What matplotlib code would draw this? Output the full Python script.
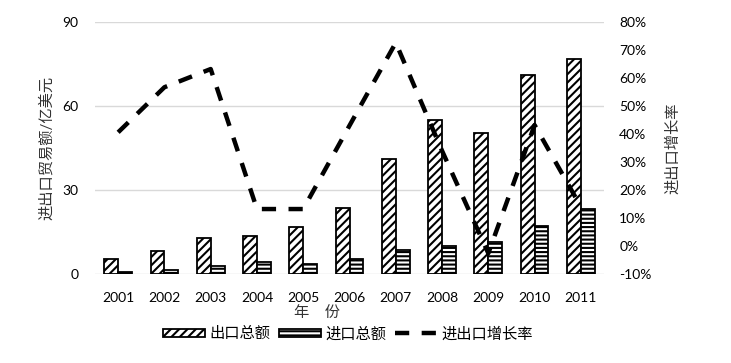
import matplotlib
matplotlib.use("Agg")
import matplotlib.pyplot as plt
import numpy as np
from matplotlib.patches import Patch
from matplotlib.lines import Line2D

years = ["2001", "2002", "2003", "2004", "2005", "2006", "2007", "2008", "2009", "2010", "2011"]
exports = [5.3, 8.1, 12.8, 13.5, 16.7, 23.6, 41.2, 55.0, 50.2, 71.1, 76.7]
imports = [0.8, 1.5, 3.0, 4.4, 3.7, 5.3, 8.5, 10.1, 11.3, 17.3, 23.2]
growth = [0.406, 0.567, 0.632, 0.132, 0.132, 0.43, 0.726, 0.34, -0.026, 0.432, 0.14]
left_ticks = [0, 30, 60, 90]
right_ticks = [-0.1, 0, 0.1, 0.2, 0.3, 0.4, 0.5, 0.6, 0.7, 0.8]

plt.rcParams['font.family'] = ['Lato', 'Noto Sans CJK SC', 'DejaVu Sans']
plt.rcParams['hatch.linewidth'] = 1.5

fig = plt.figure(figsize=(7.31, 3.63), dpi=100)
ax = fig.add_axes([95/731, 1 - 274/363, (604-95)/731, (274-22)/363])
x = np.arange(len(years))
w = 0.3
ax.bar(x - w/2, exports, width=w, facecolor='white', edgecolor='black', hatch='////', linewidth=1.3, zorder=3)
ax.bar(x + w/2, imports, width=w, facecolor='white', edgecolor='black', hatch='----', linewidth=1.3, zorder=3)
ax.set_xlim(-0.5, len(years) - 0.5)
ax.set_ylim(0, 90)
ax.set_yticks(left_ticks)
ax.set_xticks(x)
ax.set_xticklabels(years)
ax.yaxis.grid(True, color='#d9d9d9', linewidth=1)
ax.set_axisbelow(True)
for s in ax.spines.values():
    s.set_visible(False)
ax.tick_params(axis='both', length=0, labelsize=10, colors='black')
ax.tick_params(axis='y', pad=12)
ax.tick_params(axis='x', pad=13)
ax.set_ylabel("进出口贸易额/亿美元", fontsize=11, labelpad=6, color='#333333')

dash = (0, (3.2, 2.8))
ax2 = ax.twinx()
ax2.plot(x, growth, color='black', linewidth=3.2, linestyle=dash)
ax2.set_ylim(-0.1, 0.8)
ax2.set_yticks(right_ticks)
ax2.set_yticklabels([f"{int(round(v*100))}%" for v in right_ticks])
for s in ax2.spines.values():
    s.set_visible(False)
ax2.tick_params(axis='y', length=0, labelsize=10, pad=11)
ax2.set_ylabel("进出口增长率", fontsize=11, labelpad=10, color='#333333')

fig.text(317/731, 1 - 313/363, "年    份", ha='center', va='center', fontsize=11, color='#333333')

handles = [Patch(facecolor='white', edgecolor='black', hatch='////', linewidth=1.3),
           Patch(facecolor='white', edgecolor='black', hatch='----', linewidth=1.3),
           Line2D([0], [0], color='black', linewidth=3.2, linestyle=dash)]
labels = ["出口总额", "进口总额", "进出口增长率"]
fig.legend(handles, labels, loc='center', bbox_to_anchor=(348/731, 1 - 334/363), ncol=3, frameon=False,
           fontsize=11, handlelength=2.7, handleheight=0.45, handletextpad=0.3, columnspacing=0.6)

fig.savefig("out.png", dpi=100)
